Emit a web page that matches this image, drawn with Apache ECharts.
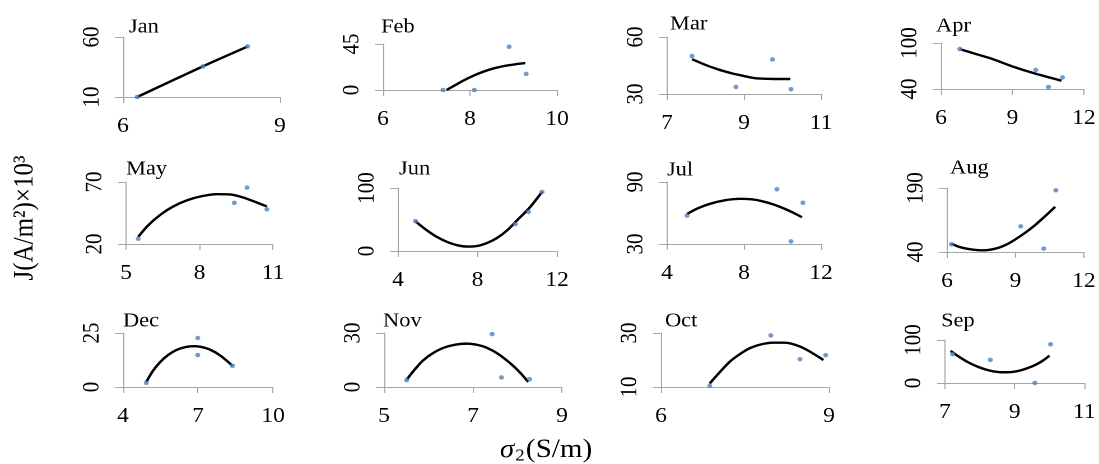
<!DOCTYPE html>
<html>
<head>
<meta charset="utf-8">
<script src="https://cdn.jsdelivr.net/npm/echarts@6/dist/echarts.min.js"></script>
<style>
  html, body { margin: 0; padding: 0; background: #fff; overflow: hidden; }
  /* the source figure is a bit stretched sideways; draw narrow, then widen */
  #chart { width: 981px; height: 464px; transform: scaleX(1.12029); transform-origin: 0 0; }
</style>
</head>
<body>
<div id="chart"></div>
<script>
// panel order as drawn: row 1, row 2, row 3
const months = ['Jan', 'Feb', 'Mar', 'Apr', 'May', 'Jun', 'Jul', 'Aug', 'Dec', 'Nov', 'Oct', 'Sep'];

// tick labels (x: sigma2, y: J)
const xTicks = [[6, 9], [6, 8, 10], [7, 9, 11], [6, 9, 12], [5, 8, 11], [4, 8, 12], [4, 8, 12], [6, 9, 12], [4, 7, 10], [5, 7, 9], [6, 9], [7, 9, 11]];
const yTicks = [[10, 60], [0, 45], [30, 60], [40, 100], [20, 70], [0, 100], [30, 90], [40, 190], [0, 25], [0, 30], [10, 30], [0, 100]];

// measured points [sigma2, J]
const janPts = [[6.27, 10], [7.53, 35.5], [8.38, 52.2]];
const febPts = [[7.38, 0], [8.10, 0], [8.90, 42.3], [9.29, 15.8]];
const marPts = [[7.65, 50.0], [8.79, 33.7], [9.74, 48.2], [10.22, 32.5]];
const aprPts = [[6.79, 92.2], [9.98, 64.8], [10.51, 42.6], [11.10, 55.1]];
const mayPts = [[5.50, 24.2], [9.42, 53.2], [9.94, 65.5], [10.75, 48.0]];
const junPts = [[4.88, 47.4], [9.90, 42.6], [10.57, 62.1], [11.25, 93.7]];
const julPts = [[5.04, 57.4], [9.71, 83.0], [11.06, 69.9], [10.44, 32.5]];
const augPts = [[6.19, 58], [9.23, 100.2], [10.24, 48], [10.77, 184.6]];
const decPts = [[4.93, 1.9], [6.99, 22.7], [6.99, 14.8], [8.38, 9.8]];
const novPts = [[5.51, 3.8], [7.43, 29.4], [7.64, 5.3], [8.27, 4.3]];
const octPts = [[6.87, 10.4], [7.96, 29.1], [8.48, 20.3], [8.94, 21.8]];
const sepPts = [[7.22, 67], [8.30, 53.8], [9.58, 0], [10.03, 90]];

// fitted curves
const janFit = [[6.27, 10], [7.5, 35], [8.38, 52]];
const febFit = [[7.46, 0], [7.65, 4.5], [7.85, 9.3], [8.08, 14], [8.31, 18], [8.55, 21.2], [8.8, 23.6], [9.05, 25.2], [9.27, 26.3]];
const marFit = [[7.65, 48.3], [8.0, 45.3], [8.38, 42.6], [8.7, 40.8], [8.99, 39.5], [9.2, 38.6], [9.42, 38.1], [9.8, 37.9], [10.2, 37.9]];
const aprFit = [[6.79, 92], [7.5, 85.3], [8.16, 79.1], [8.99, 69.5], [9.96, 60], [11.06, 50.8]];
const mayFit = [[5.5, 25.8], [5.9, 35], [6.39, 43.4], [6.9, 50], [7.48, 55.2], [8.1, 58.6], [8.71, 60.2], [9.25, 60], [9.7, 58], [10.07, 55.5], [10.75, 50.3]];
const junFit = [[4.88, 47], [5.4, 34], [5.94, 22.6], [6.5, 14], [7.0, 9], [7.5, 7], [8.0, 8], [8.5, 13], [9.0, 21], [9.5, 33], [10.0, 49], [10.6, 68], [11.25, 94]];
const julFit = [[5.04, 59], [5.6, 64.5], [6.25, 69], [7.0, 72.3], [7.81, 73.7], [8.4, 73.2], [8.85, 71.8], [9.5, 68.5], [10.06, 64.5], [10.5, 60.8], [11.01, 55.9]];
const augFit = [[6.19, 59.7], [6.5, 52.5], [6.84, 48], [7.2, 45], [7.56, 44], [7.9, 45.5], [8.28, 50.3], [8.65, 58.5], [9.01, 70], [9.45, 86], [9.88, 104], [10.3, 124], [10.74, 146]];
const decFit = [[4.93, 2.3], [5.2, 7.5], [5.49, 11.6], [5.8, 14.8], [6.15, 17.2], [6.5, 18.5], [6.81, 18.9], [7.1, 18.6], [7.48, 17.3], [7.9, 14.5], [8.38, 9.8]];
const novFit = [[5.51, 4.1], [5.7, 10], [5.88, 14.8], [6.1, 18.8], [6.33, 21.7], [6.6, 23.5], [6.86, 24.1], [7.1, 23.4], [7.3, 21.9], [7.55, 18.6], [7.83, 13.3], [8.05, 8.2], [8.24, 2.8]];
const octFit = [[6.87, 11.3], [7.05, 15.5], [7.23, 19.4], [7.41, 22.2], [7.59, 24.4], [7.77, 25.7], [8.0, 26.4], [8.2, 26.4], [8.4, 25.6], [8.6, 23.8], [8.9, 20]];
const sepFit = [[7.16, 74.6], [7.45, 58.5], [7.71, 46.2], [7.95, 37.5], [8.18, 31.2], [8.4, 27], [8.65, 25], [8.9, 25.5], [9.13, 28.5], [9.37, 34.5], [9.6, 42.3], [9.8, 51.5], [10.0, 63.7]];

const points = [janPts, febPts, marPts, aprPts, mayPts, junPts, julPts, augPts, decPts, novPts, octPts, sepPts];
const fits = [janFit, febFit, marFit, aprFit, mayFit, junFit, julFit, augFit, decFit, novFit, octFit, sepFit];

// plot boxes in final page px: left, top, width, height
const boxes = [
  [123, 37, 157, 60], [383, 44, 174, 46], [667, 37, 154, 57], [941, 43, 145, 46],
  [126, 182, 147, 62], [398, 188, 159, 63], [667, 182, 154, 62], [947, 188, 139, 64],
  [123, 333, 150, 54], [384, 333, 178, 54], [661, 333, 168, 54], [945, 340, 141, 43]
];
// title text left / top in final page px
const titlePos = [
  [129, 17], [381, 17], [670, 14], [936, 16],
  [126, 159], [399, 159], [667, 160], [950, 158],
  [123, 311], [383, 311], [665, 311], [941, 311]
];

const sx = 1099 / 981; // sideways stretch
const serif = 'Liberation Serif';
const axisGrey = '#a6a6a6';

const chart = echarts.init(document.getElementById('chart'), null, { devicePixelRatio: 2 });

const grid = [], xAxis = [], yAxis = [], series = [], title = [];
months.forEach((m, i) => {
  const b = boxes[i];
  grid.push({ left: b[0] / sx, top: b[1], width: b[2] / sx, height: b[3], containLabel: false });
  title.push({
    text: m, left: titlePos[i][0] / sx, top: titlePos[i][1], padding: 0,
    textStyle: { fontFamily: serif, fontSize: 20, fontWeight: 'normal', color: '#000' }
  });
  const xt = xTicks[i], yt = yTicks[i];
  xAxis.push({
    type: 'value', gridIndex: i, min: xt[0], max: xt[xt.length - 1],
    axisLine: { lineStyle: { color: axisGrey, width: 1 } },
    axisTick: { show: true, length: 6, lineStyle: { color: axisGrey }, customValues: xt },
    axisLabel: { customValues: xt, margin: 19, fontFamily: serif, fontSize: 21, color: '#000' },
    splitLine: { show: false }
  });
  yAxis.push({
    type: 'value', gridIndex: i, min: yt[0], max: yt[1],
    axisLine: { show: true, lineStyle: { color: axisGrey, width: 1 } },
    axisTick: { show: true, length: 7, lineStyle: { color: axisGrey }, customValues: yt },
    axisLabel: { customValues: yt, rotate: 90, margin: 17, fontFamily: serif, fontSize: 21, color: '#000' },
    splitLine: { show: false }
  });
  series.push({
    type: 'line', xAxisIndex: i, yAxisIndex: i, data: fits[i], smooth: 0.3,
    showSymbol: false, lineStyle: { color: '#000', width: 2.4 }, z: 2, silent: true
  });
  series.push({
    type: 'scatter', xAxisIndex: i, yAxisIndex: i, data: points[i], symbolSize: 4.5,
    itemStyle: { color: '#4f81bd' }, z: 3, clip: false
  });
});

chart.setOption({
  animation: false,
  title: title,
  grid: grid,
  xAxis: xAxis,
  yAxis: yAxis,
  series: series,
  graphic: [
    {
      type: 'text', x: 25 / sx, y: 218, rotation: Math.PI / 2,
      style: {
        text: 'J(A/m²)×10³', fontFamily: serif, fontSize: 25, fill: '#000',
        align: 'center', verticalAlign: 'middle'
      }
    },
    {
      type: 'text', x: 546 / sx, y: 450,
      style: {
        text: '{i|σ}{s|2}{n|(S/m)}', align: 'center', verticalAlign: 'middle',
        rich: {
          i: { fontFamily: serif, fontSize: 26, fontStyle: 'italic', fill: '#000' },
          s: { fontFamily: serif, fontSize: 17, fill: '#000', padding: [12, 1, 0, 1] },
          n: { fontFamily: serif, fontSize: 26, fill: '#000' }
        }
      }
    }
  ]
});
</script>
</body>
</html>
